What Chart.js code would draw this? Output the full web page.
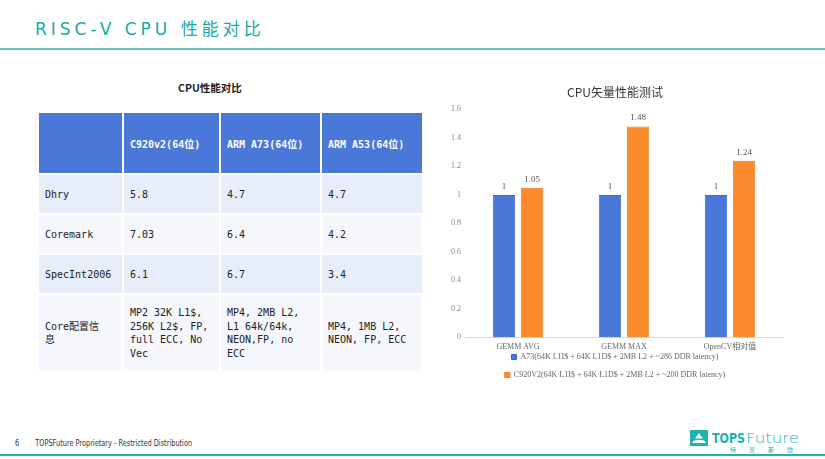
<!DOCTYPE html>
<html lang="zh">
<head>
<meta charset="UTF-8">
<title>RISC-V CPU 性能对比</title>
<script src="https://cdn.jsdelivr.net/npm/chart.js@4.4.1/dist/chart.umd.min.js"></script>
<style>
  html, body { margin: 0; padding: 0; }
  body { width: 825px; height: 459px; position: relative; overflow: hidden; background: #fff; font-family: "DejaVu Sans", "Noto Sans CJK SC", sans-serif; }
  #title { position: absolute; left: 35px; top: 15px; font-size: 17px; letter-spacing: 4px; color: #18aaa6; font-family: "DejaVu Sans", "Noto Sans CJK SC", sans-serif; }
  #topline { position: absolute; left: 0; top: 48px; width: 825px; height: 2px; background: #62c2be; }
  #bottomline { position: absolute; left: 0; top: 454px; width: 825px; height: 2px; background: #1fb3ad; }
  #footer { position: absolute; left: 15px; top: 438px; font-size: 9px; color: #333; white-space: nowrap; transform: scaleX(0.73); transform-origin: left top; }
  #footer span { margin-right: 22px; }
  #tabletitle { position: absolute; left: 178px; top: 80px; font-size: 10.5px; font-weight: bold; color: #222; font-family: "Noto Sans CJK SC", sans-serif; }
  table { position: absolute; left: 37px; top: 111px; width: 385px; table-layout: fixed; border-collapse: collapse; font-family: "DejaVu Sans Mono", "Noto Sans CJK SC", monospace; font-size: 10px; color: #222; }
  td, th { border: 2px solid #fff; padding: 0 6px; text-align: left; vertical-align: middle; }
  th { background: #4a78d8; color: #fff; height: 60px; font-weight: bold; }
  tr.r1 td { background: #e8eef9; height: 38px; }
  tr.r2 td { background: #f5f7fc; height: 38px; }
  tr.r3 td { background: #f5f7fc; height: 76px; line-height: 13.5px; }
  td.cfg { line-height: 15px; }
  #chartbox { position: absolute; left: 437px; top: 80px; width: 355px; height: 323px; }
  #logo { position: absolute; left: 690px; top: 428px; }
</style>
</head>
<body>
<div id="title">RISC-V CPU 性能对比</div>
<div id="topline"></div>

<div id="tabletitle">CPU性能对比</div>
<table id="tbl"></table>

<div id="chartbox"><canvas id="chart"></canvas></div>

<div id="footer"><span>6</span>TOPSFuture Proprietary - Restricted Distribution</div>
<svg id="logo" width="125" height="26" viewBox="0 0 125 26">
  <rect x="0" y="2" width="18" height="16" fill="#1fb3ad"/>
  <path d="M2 15 L9 5 L16 15 Z" fill="#fff"/>
  <path d="M1 13 Q9 9 17 13" stroke="#1fb3ad" stroke-width="1.5" fill="none"/>
  <text x="22" y="15" font-family="DejaVu Sans" font-weight="bold" font-size="14" fill="#1fb3ad" textLength="33" lengthAdjust="spacingAndGlyphs">TOPS</text>
  <text x="56" y="15" font-family="DejaVu Sans" font-weight="200" font-size="14" fill="#1fb3ad" textLength="53" lengthAdjust="spacingAndGlyphs">Future</text>
  <text x="40" y="24" font-family="Noto Sans CJK SC" font-size="6" fill="#1fb3ad" letter-spacing="13">特普斯微</text>
</svg>
<div id="bottomline"></div>

<script>
// table data
const tableHeader = ['', 'C920v2(64位)', 'ARM A73(64位)', 'ARM A53(64位)'];
const tableRows = [
  ['Dhry', '5.8', '4.7', '4.7'],
  ['Coremark', '7.03', '6.4', '4.2'],
  ['SpecInt2006', '6.1', '6.7', '3.4'],
  ['Core配置信<br>息', 'MP2 32K L1$,<br>256K L2$, FP,<br>full ECC, No<br>Vec', 'MP4, 2MB L2,<br>L1 64k/64k,<br>NEON,FP, no<br>ECC', 'MP4, 1MB L2,<br>NEON, FP, ECC']
];
const colWidths = [85, 97, 101, 102];

// chart data
const categories = ['GEMM AVG', 'GEMM MAX', 'OpenCV相对值'];
const seriesNames = [
  'A73(64K L1I$ + 64K L1D$ + 2MB L2 + ~286 DDR latency)',
  'C920V2(64K L1I$ + 64K L1D$ + 2MB L2 + ~200 DDR latency)'
];
const a73Values = [1, 1, 1];
const c920Values = [1.05, 1.48, 1.24];

// build table
const tbl = document.getElementById('tbl');
let html = '<colgroup>' + colWidths.map(w => '<col style="width:' + w + 'px">').join('') + '</colgroup>';
html += '<tr>' + tableHeader.map(h => '<th>' + h + '</th>').join('') + '</tr>';
tableRows.forEach((row, r) => {
  const cls = r === 3 ? 'r3' : (r % 2 === 0 ? 'r1' : 'r2');
  html += '<tr class="' + cls + '">' + row.map((c, i) => '<td' + (r === 3 && i === 0 ? ' class="cfg"' : '') + '>' + c + '</td>').join('') + '</tr>';
});
tbl.innerHTML = html;

const valueLabels = {
  id: 'valueLabels',
  afterDatasetsDraw(chart) {
    const ctx = chart.ctx;
    ctx.save();
    ctx.font = '9px "Liberation Serif", "Noto Sans CJK SC", serif';
    ctx.fillStyle = '#555';
    ctx.textAlign = 'center';
    ctx.textBaseline = 'bottom';
    chart.data.datasets.forEach((ds, di) => {
      chart.getDatasetMeta(di).data.forEach((bar, i) => {
        ctx.fillText(String(ds.data[i]), bar.x, bar.y - 4);
      });
    });
    ctx.restore();
  }
};

// pull the legend a little closer to the axis labels
const legendNudge = {
  id: 'legendNudge',
  afterLayout(chart) {
    chart.legend.top -= 14;
    chart.legend.bottom -= 14;
  }
};

const ctx = document.getElementById('chart').getContext('2d');
new Chart(ctx, {
  type: 'bar',
  data: {
    labels: categories,
    datasets: [{
      label: seriesNames[0],
      data: a73Values,
      backgroundColor: '#4a78d8',
      borderColor: '#3d68c4',
      borderWidth: 1,
      categoryPercentage: 0.53,
      barPercentage: 0.8
    }, {
      label: seriesNames[1],
      data: c920Values,
      backgroundColor: '#fa8a2c',
      borderColor: '#f07d1c',
      borderWidth: 1,
      categoryPercentage: 0.53,
      barPercentage: 0.8
    }]
  },
  options: {
    responsive: true,
    maintainAspectRatio: false,
    animation: false,
    layout: { padding: { left: 10, right: 9, top: 0, bottom: 0 } },
    plugins: {
      title: {
        display: true,
        text: 'CPU矢量性能测试',
        color: '#333',
        font: { size: 12, family: '"Noto Sans CJK SC", serif', weight: 'normal' },
        padding: { top: 5, bottom: 10 }
      },
      legend: {
        position: 'bottom',
        labels: {
          boxWidth: 5,
          boxHeight: 5,
          padding: 10,
          color: '#666',
          font: { size: 8, family: '"Liberation Serif", "Noto Sans CJK SC", serif' }
        }
      },
      tooltip: { enabled: false }
    },
    scales: {
      x: {
        grid: { display: false, drawTicks: false },
        border: { color: '#d9d9d9' },
        ticks: { color: '#666', font: { size: 8, family: '"Liberation Serif", "Noto Sans CJK SC", serif' }, padding: 5 }
      },
      y: {
        min: 0,
        max: 1.6,
        grid: { display: false, drawTicks: false },
        border: { display: false },
        ticks: {
          stepSize: 0.2,
          color: '#888',
          padding: 4,
          font: { size: 8, family: '"Liberation Serif", serif' },
          callback: v => String(parseFloat(v.toFixed(1)))
        }
      }
    }
  },
  plugins: [valueLabels, legendNudge]
});
</script>
</body>
</html>
